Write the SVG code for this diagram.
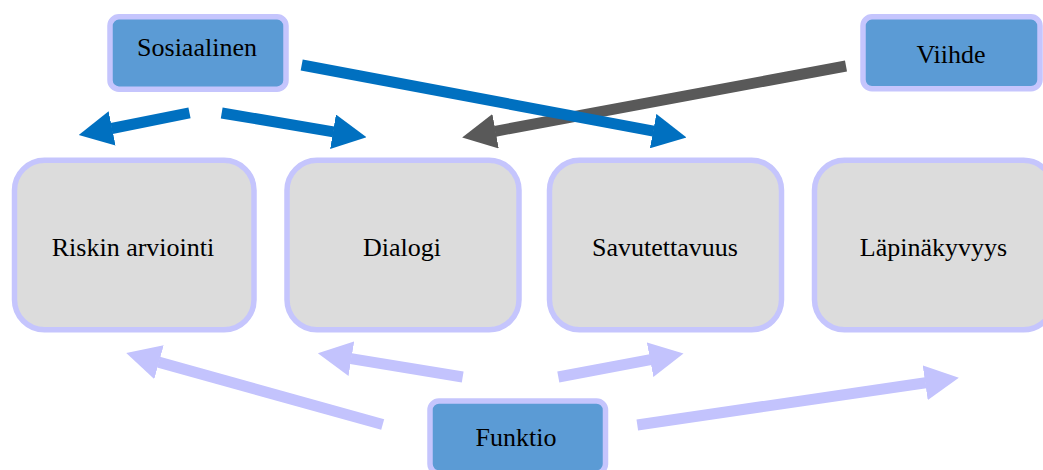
<svg xmlns="http://www.w3.org/2000/svg" width="1043" height="470" viewBox="0 0 1043 470" font-family="'Liberation Serif', 'Times New Roman', Times, serif">
  <style>
    text { font-family: "Liberation Serif", "Times New Roman", Times, serif; }
    .lbl { font-size: 26px; fill: #000; text-anchor: middle; }
    .top { fill: #5b9bd5; stroke: #c5c5fd; stroke-width: 5.5; }
    .box { fill: #dcdcdc; stroke: #c5c5fd; stroke-width: 5.5; }
    .blue { stroke: #0070c0; stroke-width: 11; fill: none; marker-end: url(#hBlue); }
    .grey { stroke: #595959; stroke-width: 11; fill: none; marker-end: url(#hGrey); }
    .lav { stroke: #c3c3fd; stroke-width: 11; fill: none; marker-end: url(#hLav); }
  </style>
  <defs>
    <marker id="hBlue" markerUnits="userSpaceOnUse" viewBox="0 0 34 35" markerWidth="34" markerHeight="35" refX="0.5" refY="17.5" orient="auto">
      <path d="M0,0 L34,17.5 L0,35 Z" fill="#0070c0"/>
    </marker>
    <marker id="hGrey" markerUnits="userSpaceOnUse" viewBox="0 0 34 35" markerWidth="34" markerHeight="35" refX="0.5" refY="17.5" orient="auto">
      <path d="M0,0 L34,17.5 L0,35 Z" fill="#595959"/>
    </marker>
    <marker id="hLav" markerUnits="userSpaceOnUse" viewBox="0 0 34 35" markerWidth="34" markerHeight="35" refX="0.5" refY="17.5" orient="auto">
      <path d="M0,0 L34,17.5 L0,35 Z" fill="#c3c3fd"/>
    </marker>
  </defs>

  <rect width="1043" height="470" fill="#ffffff"/>

  <!-- connectors -->
  <g id="connectors">
    <line class="blue" x1="189.5" y1="112.8" x2="111.6" y2="128.5"/>
    <line class="blue" x1="221.7" y1="113" x2="333.5" y2="131.8"/>
    <line class="grey" x1="846" y1="66" x2="495.1" y2="131.3"/>
    <line class="blue" x1="301.7" y1="65" x2="653.6" y2="131.2"/>
    <line class="lav" x1="382.7" y1="424.5" x2="158.5" y2="362.1"/>
    <line class="lav" x1="462.7" y1="377" x2="350.9" y2="358.6"/>
    <line class="lav" x1="558.3" y1="377" x2="650.6" y2="359.6"/>
    <line class="lav" x1="637.3" y1="425" x2="925.7" y2="382.7"/>
  </g>

  <!-- source nodes -->
  <g id="sosiaalinen">
    <rect class="top" x="110" y="16.8" width="176" height="72.4" rx="9"/>
    <text class="lbl" x="197" y="56">Sosiaalinen</text>
  </g>
  <g id="viihde">
    <rect class="top" x="863" y="16.8" width="177" height="72" rx="9"/>
    <text class="lbl" x="951" y="62.7">Viihde</text>
  </g>
  <g id="funktio">
    <rect class="top" x="430" y="401" width="175.5" height="72" rx="9"/>
    <text class="lbl" x="516" y="446">Funktio</text>
  </g>

  <!-- target nodes -->
  <g id="riskin-arviointi">
    <rect class="box" x="14.5" y="160.3" width="239.5" height="169.5" rx="30"/>
    <text class="lbl" x="133" y="256">Riskin arviointi</text>
  </g>
  <g id="dialogi">
    <rect class="box" x="287" y="160.3" width="232" height="169.5" rx="30"/>
    <text class="lbl" x="402" y="256">Dialogi</text>
  </g>
  <g id="savutettavuus">
    <rect class="box" x="549.5" y="160.3" width="232" height="169.5" rx="30"/>
    <text class="lbl" x="665" y="256">Savutettavuus</text>
  </g>
  <g id="lapinakyvyys">
    <rect class="box" x="814.5" y="160.3" width="239" height="169.5" rx="30"/>
    <text class="lbl" x="933.5" y="256">Läpinäkyvyys</text>
  </g>
</svg>
